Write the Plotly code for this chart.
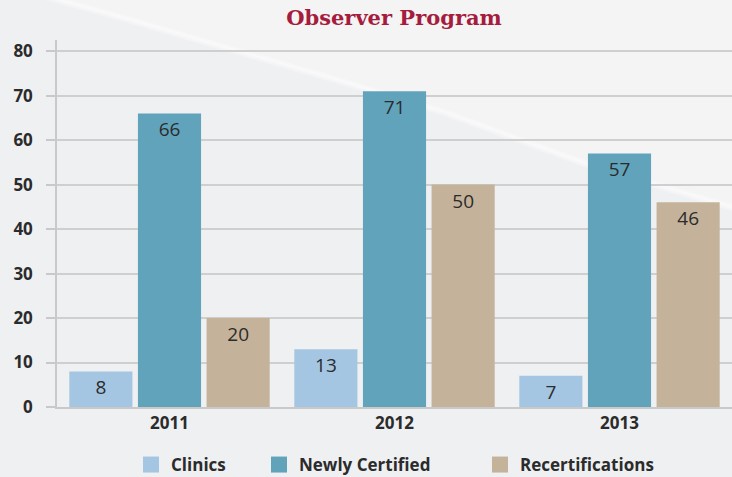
import plotly.graph_objects as go

years = ["2011", "2012", "2013"]
clinics = [8, 13, 7]
newly_certified = [66, 71, 57]
recertifications = [20, 50, 46]
y_ticks = [0, 10, 20, 30, 40, 50, 60, 70, 80]

W, H = 732, 477
L, R, T, B = 57, 0, 40, 70
pw, ph = W - L - R, H - T - B

def px(x, y):
    return (x - L) / pw, (H - B - y) / ph

font_family = "'Open Sans', sans-serif"
colors = ["#a4c6e2", "#62a3bc", "#c4b39a"]
legend_swatch_x = [152, 280, 501]

fig = go.Figure()
series = [("Clinics", clinics, colors[0]),
          ("Newly Certified", newly_certified, colors[1]),
          ("Recertifications", recertifications, colors[2])]
legend_names = ["legend", "legend2", "legend3"]
for (name, vals, col), lg in zip(series, legend_names):
    fig.add_trace(go.Bar(
        name=name, x=years, y=vals, marker_color=col, marker_line_width=0,
        text=[str(v) for v in vals], textposition="inside",
        insidetextanchor="end", showlegend=False,
        textfont=dict(family=font_family, size=19, color="#2b2b2b"),
        textangle=0, constraintext="none", hoverinfo="x+y+name",
    ))
    # legend entry with a larger square swatch
    fig.add_trace(go.Scatter(
        name=name, x=[None], y=[None], mode="markers", legend=lg,
        marker=dict(symbol="square", size=16, color=col, line_width=0),
        showlegend=True, hoverinfo="skip",
    ))

# background streak
pts = [(-5, -5), (40, -5), (130, 20), (233, 50), (330, 78), (446, 113), (583, 163), (740, 210), (740, -5)]
path = "M " + " L ".join(f"{px(a,b)[0]},{px(a,b)[1]}" for a, b in pts) + " Z"
line_pts = pts[1:-1]
lpath = "M " + " L ".join(f"{px(a,b)[0]},{px(a,b)[1]}" for a, b in line_pts)

legend_font = dict(family=font_family, size=17, color="#2b2b2b", weight="bold")
legends = {}
for lg, sx in zip(legend_names, legend_swatch_x):
    legends[lg] = dict(orientation="h", x=px(sx - 21, 0)[0], xanchor="left",
                       y=-(465 - (H - B)) / ph, yanchor="middle",
                       font=legend_font, bgcolor="rgba(0,0,0,0)", itemsizing="trace")

fig.update_layout(
    width=W, height=H,
    margin=dict(l=L, r=R, t=T, b=B, autoexpand=False),
    paper_bgcolor="#eff0f2",
    plot_bgcolor="rgba(0,0,0,0)",
    shapes=[
        dict(type="path", path=path, xref="paper", yref="paper",
             fillcolor="#f4f4f5", line_width=0, layer="below"),
        dict(type="path", path=lpath, xref="paper", yref="paper",
             line=dict(color="rgba(255,255,255,0.3)", width=7), layer="below"),
        dict(type="path", path=lpath, xref="paper", yref="paper",
             line=dict(color="rgba(255,255,255,0.3)", width=3), layer="below"),
    ],
    title=dict(text="<b>Observer Program</b>", x=px(394, 0)[0], xref="paper",
               xanchor="center", y=1 - 18 / H, yanchor="middle",
               font=dict(family="'DejaVu Serif', serif", size=21, color="#a51c3d")),
    barmode="group", bargap=0.085, bargroupgap=0.08,
    showlegend=True,
    **legends,
    xaxis=dict(showline=True, linecolor="#c9c9c9", linewidth=2,
               tickfont=dict(family=font_family, size=17, color="#2b2b2b", weight="bold"),
               ticks="", fixedrange=True),
    yaxis=dict(range=[0, 82.5], tickvals=y_ticks, showgrid=True, gridcolor="#cfcfcf",
               gridwidth=1.5, showline=True, linecolor="#c9c9c9", linewidth=1.5,
               ticks="outside", ticklen=9, tickcolor="#c9c9c9", tickwidth=1.5,
               ticklabelstandoff=10, zeroline=False,
               tickfont=dict(family=font_family, size=17, color="#2b2b2b", weight="bold")),
)
fig.write_html("out.html", config={"displayModeBar": False},
               post_script="document.body.style.margin='0px';document.body.style.overflow='hidden';")
